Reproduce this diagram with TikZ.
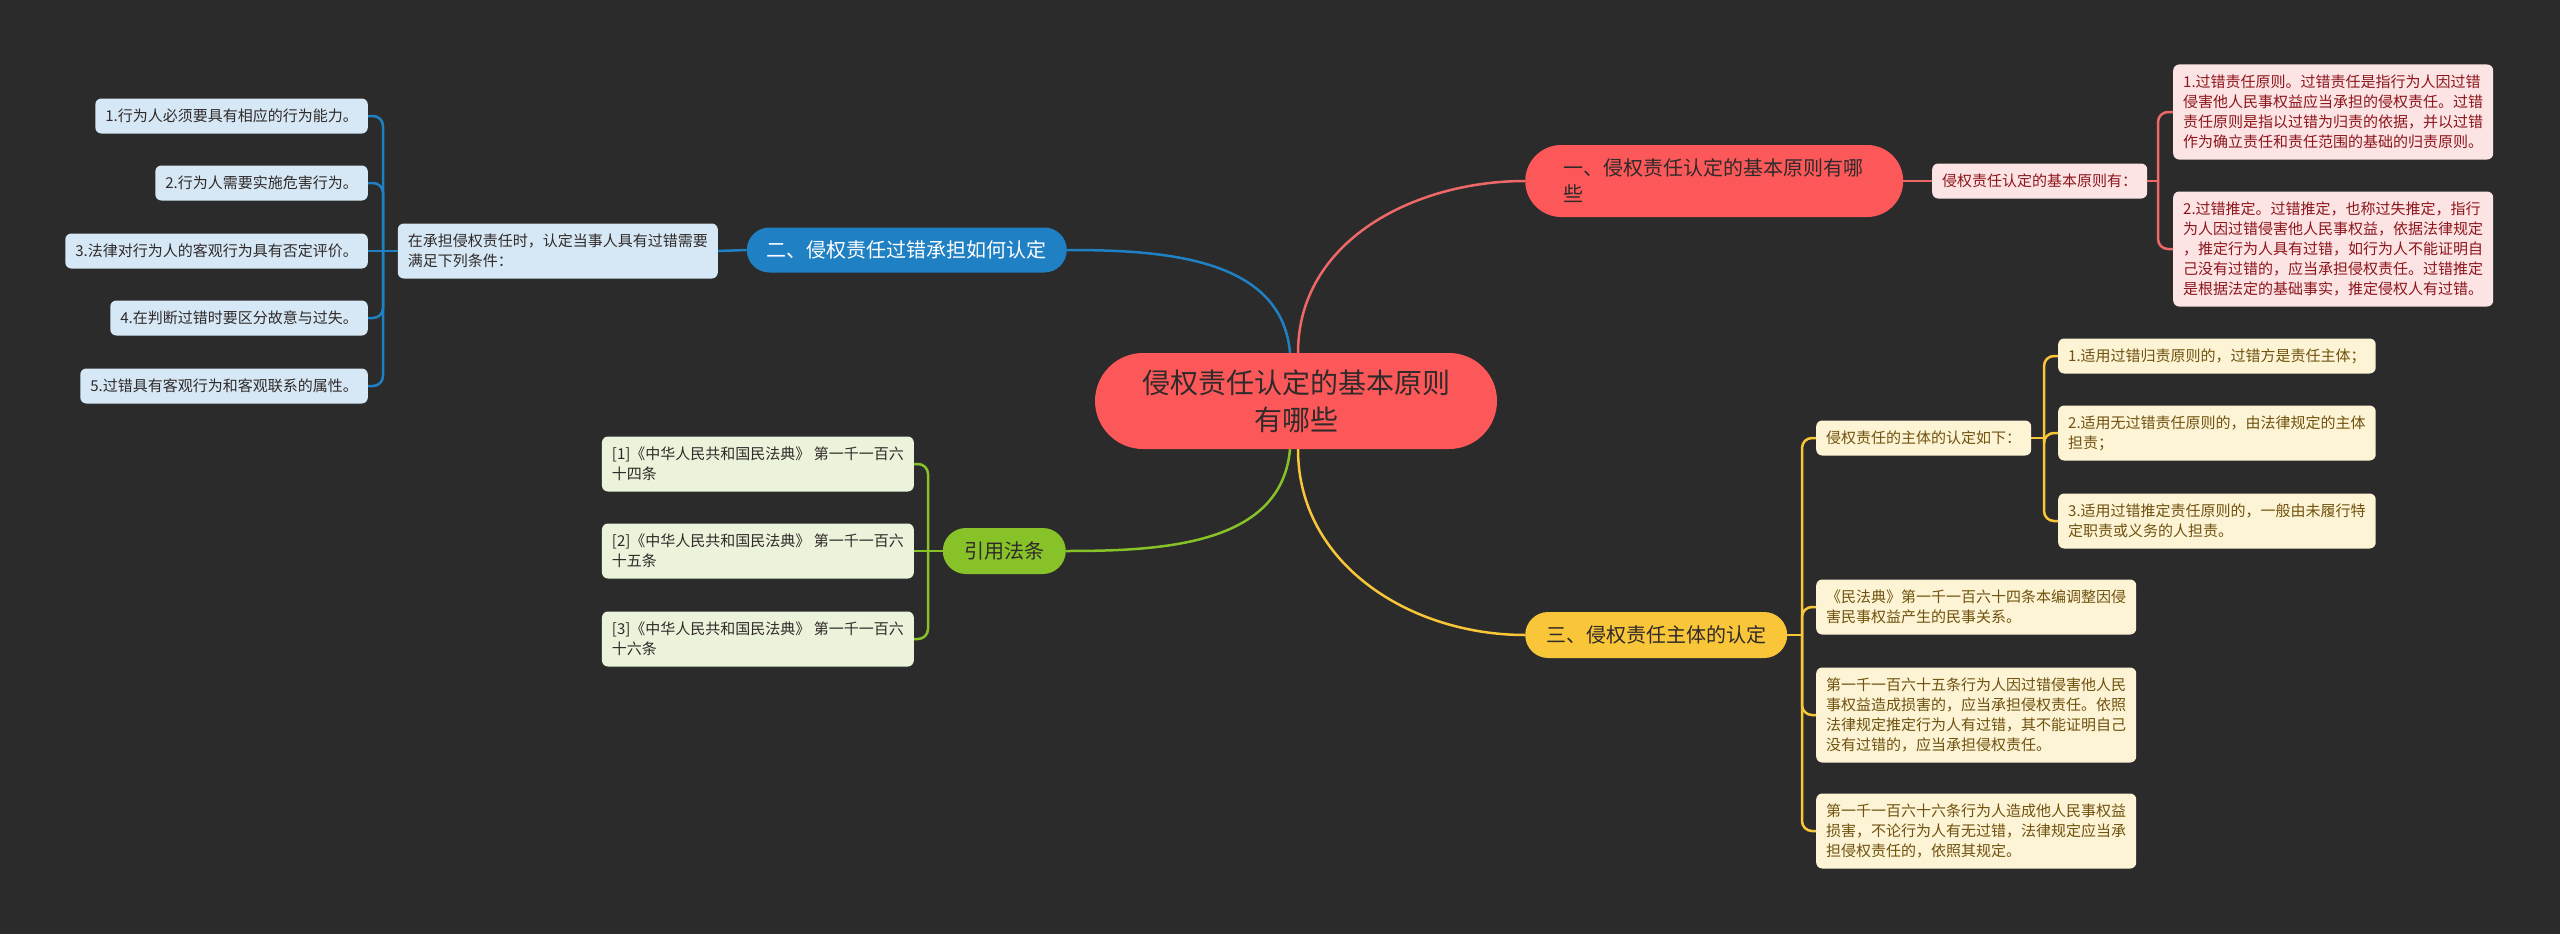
\documentclass[tikz,border=0pt]{standalone}
\usepackage{fontspec}
\setmainfont{Noto Sans CJK SC}
\definecolor{bgc}{RGB}{43,43,43}
\definecolor{darkt}{RGB}{48,42,42}
\definecolor{redm}{RGB}{252,88,90}
\definecolor{redln}{RGB}{238,104,104}
\definecolor{redl}{RGB}{253,228,228}
\definecolor{redt}{RGB}{140,22,28}
\definecolor{bluem}{RGB}{31,128,196}
\definecolor{bluel}{RGB}{214,232,245}
\definecolor{greenm}{RGB}{134,194,40}
\definecolor{greenl}{RGB}{235,243,218}
\definecolor{yelm}{RGB}{248,198,56}
\definecolor{yell}{RGB}{253,244,214}
\definecolor{yelt}{RGB}{112,82,14}
\begin{document}
\begin{tikzpicture}[x=1pt,y=-1pt,
  box/.style={rounded corners=6, inner xsep=10, inner ysep=0, align=left, font=\fontsize{15}{20}\selectfont},
  nl/.style={minimum height=20*#1+15},
  pill/.style={inner sep=0, align=center, font=\fontsize{20}{26}\selectfont},
  link/.style={line width=2.5, rounded corners=10}]
\fill[bgc] (0,0) rectangle (2560,934);
\useasboundingbox (0,0) rectangle (2560,934);
\node[pill, fill=redm, text=darkt, minimum width=402, minimum height=96, rounded corners=48, font=\fontsize{28}{37}\selectfont] (root) at (1296,401) {侵权责任认定的基本原则\\有哪些};
\node[pill, fill=redm, text=darkt, anchor=west, minimum height=72, rounded corners=36, inner xsep=38, text width=302, align=left] (b1) at (1525,181) {一、侵权责任认定的基本原则有哪\\些};
\node[box, nl=1, fill=redl, text=redt, anchor=west] (b1s) at (1932,181) {侵权责任认定的基本原则有：};
\node[box, nl=4, fill=redl, text=redt, anchor=west] (b1a) at (2173,112) {1.过错责任原则。过错责任是指行为人因过错\\侵害他人民事权益应当承担的侵权责任。过错\\责任原则是指以过错为归责的依据，并以过错\\作为确立责任和责任范围的基础的归责原则。};
\node[box, nl=5, fill=redl, text=redt, anchor=west] (b1b) at (2173,249) {2.过错推定。过错推定，也称过失推定，指行\\为人因过错侵害他人民事权益，依据法律规定\\，推定行为人具有过错，如行为人不能证明自\\己没有过错的，应当承担侵权责任。过错推定\\是根据法定的基础事实，推定侵权人有过错。};
\node[pill, fill=bluem, text=white, anchor=east, minimum width=320, minimum height=45, rounded corners=22.5] (b2) at (1067,250) {二、侵权责任过错承担如何认定};
\node[box, nl=2, fill=bluel, text=darkt, anchor=east] (b2s) at (718,251) {在承担侵权责任时，认定当事人具有过错需要\\满足下列条件：};
\node[box, nl=1, fill=bluel, text=darkt, anchor=east] (b2a) at (368,116) {1.行为人必须要具有相应的行为能力。};
\node[box, nl=1, fill=bluel, text=darkt, anchor=east] (b2b) at (368,183) {2.行为人需要实施危害行为。};
\node[box, nl=1, fill=bluel, text=darkt, anchor=east] (b2c) at (368,251) {3.法律对行为人的客观行为具有否定评价。};
\node[box, nl=1, fill=bluel, text=darkt, anchor=east] (b2d) at (368,318) {4.在判断过错时要区分故意与过失。};
\node[box, nl=1, fill=bluel, text=darkt, anchor=east] (b2e) at (368,386) {5.过错具有客观行为和客观联系的属性。};
\node[pill, fill=yelm, text=darkt, anchor=west, minimum width=262, minimum height=46, rounded corners=23] (b3) at (1525,635) {三、侵权责任主体的认定};
\node[box, nl=1, fill=yell, text=yelt, anchor=west] (b3s) at (1816,438) {侵权责任的主体的认定如下：};
\node[box, nl=1, fill=yell, text=yelt, anchor=west] (b3s1) at (2058,356) {1.适用过错归责原则的，过错方是责任主体；};
\node[box, nl=2, fill=yell, text=yelt, anchor=west] (b3s2) at (2058,433) {2.适用无过错责任原则的，由法律规定的主体\\担责；};
\node[box, nl=2, fill=yell, text=yelt, anchor=west] (b3s3) at (2058,521) {3.适用过错推定责任原则的，一般由未履行特\\定职责或义务的人担责。};
\node[box, nl=2, fill=yell, text=yelt, anchor=west] (b3a) at (1816,607) {《民法典》第一千一百六十四条本编调整因侵\\害民事权益产生的民事关系。};
\node[box, nl=4, fill=yell, text=yelt, anchor=west] (b3b) at (1816,715) {第一千一百六十五条行为人因过错侵害他人民\\事权益造成损害的，应当承担侵权责任。依照\\法律规定推定行为人有过错，其不能证明自己\\没有过错的，应当承担侵权责任。};
\node[box, nl=3, fill=yell, text=yelt, anchor=west] (b3c) at (1816,831) {第一千一百六十六条行为人造成他人民事权益\\损害，不论行为人有无过错，法律规定应当承\\担侵权责任的，依照其规定。};
\node[pill, fill=greenm, text=darkt, anchor=east, minimum width=123, minimum height=46, rounded corners=23] (b4) at (1066,551) {引用法条};
\node[box, nl=2, fill=greenl, text=darkt, anchor=east] (b4a) at (914,464) {[1]《中华人民共和国民法典》 第一千一百六\\十四条};
\node[box, nl=2, fill=greenl, text=darkt, anchor=east] (b4b) at (914,551) {[2]《中华人民共和国民法典》 第一千一百六\\十五条};
\node[box, nl=2, fill=greenl, text=darkt, anchor=east] (b4c) at (914,639) {[3]《中华人民共和国民法典》 第一千一百六\\十六条};
\coordinate (t1) at (2158,181);
\coordinate (t2) at (383,251);
\coordinate (t3) at (1802,635);
\coordinate (t3s) at (2044,438);
\coordinate (t4) at (928,551);
\draw[redln, line width=2.5] ([xshift=2]root.north) to[out=90,in=180] (b1.west);
\draw[bluem, line width=2.5] ([xshift=-6]root.north) to[out=95,in=0] (b2.east);
\draw[yelm, line width=2.5] ([xshift=2]root.south) to[out=-90,in=180] (b3.west);
\draw[greenm, line width=2.5] ([xshift=-6]root.south) to[out=-95,in=0] (b4.east);
\draw[redln, link] (b1.east) -- (b1s.west);
\draw[redln, link] (b1s.east) -- (t1);
\draw[redln, link] (t1) |- (b1a.west);
\draw[redln, link] (t1) |- (b1b.west);
\draw[bluem, link] (b2.west) -- (b2s.east);
\draw[bluem, link] (b2s.west) -- (t2);
\draw[bluem, link] (t2) |- (b2a.east);
\draw[bluem, link] (t2) |- (b2b.east);
\draw[bluem, link] (t2) -- (b2c.east);
\draw[bluem, link] (t2) |- (b2d.east);
\draw[bluem, link] (t2) |- (b2e.east);
\draw[yelm, link] (b3.east) -- (t3);
\draw[yelm, link] (t3) |- (b3s.west);
\draw[yelm, link] (t3) |- (b3a.west);
\draw[yelm, link] (t3) |- (b3b.west);
\draw[yelm, link] (t3) |- (b3c.west);
\draw[yelm, link] (b3s.east) -- (t3s);
\draw[yelm, link] (t3s) |- (b3s1.west);
\draw[yelm, link] (t3s) |- (b3s2.west);
\draw[yelm, link] (t3s) |- (b3s3.west);
\draw[greenm, link] (b4.west) -- (t4);
\draw[greenm, link] (t4) |- (b4a.east);
\draw[greenm, link] (t4) -- (b4b.east);
\draw[greenm, link] (t4) |- (b4c.east);
\end{tikzpicture}
\end{document}
